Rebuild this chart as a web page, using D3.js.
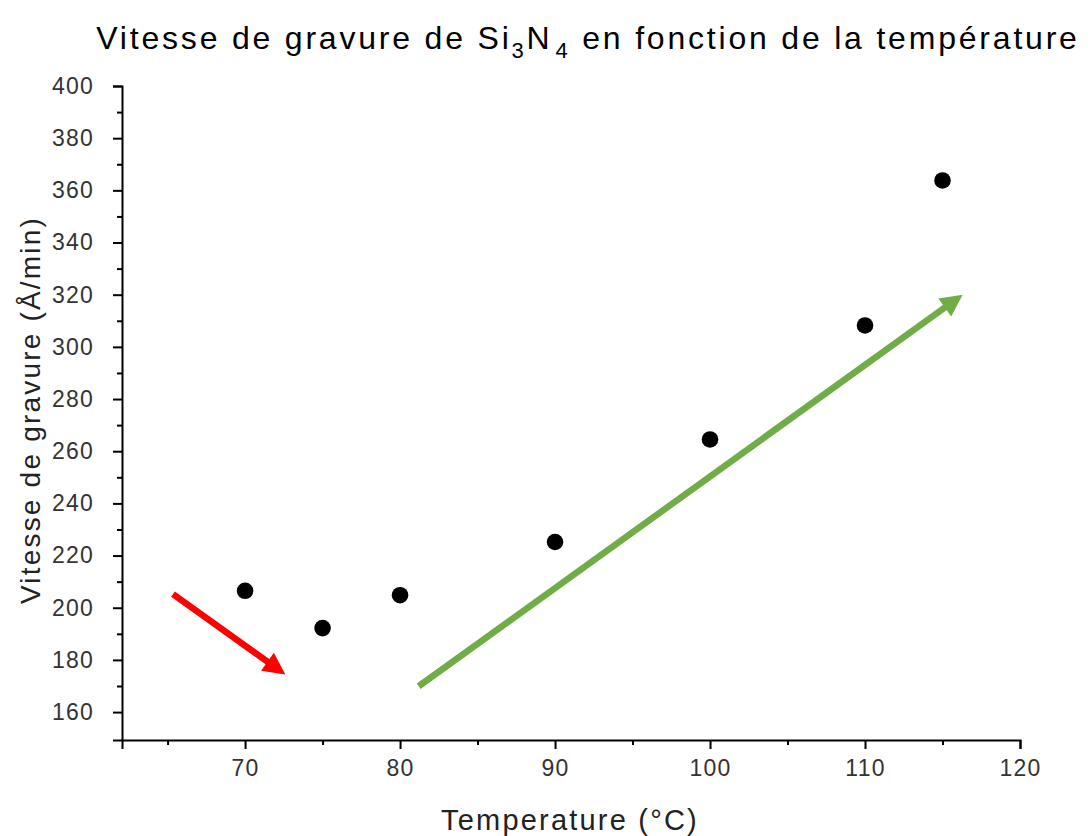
<!DOCTYPE html>
<html>
<head>
<meta charset="utf-8">
<script src="https://cdn.jsdelivr.net/npm/d3@7"></script>
<style>
  body { margin: 0; background: #fff; }
  text { font-family: "Liberation Sans", Arial, sans-serif; }
</style>
</head>
<body>
<div id="chart"></div>
<script>
// data
var temps = [70, 75, 80, 90, 100, 110, 115];
var rates = [206.5, 192.2, 204.8, 225.2, 264.5, 308.2, 363.8];
var xTicks = [70, 80, 90, 100, 110, 120];
var yTicks = [160, 180, 200, 220, 240, 260, 280, 300, 320, 340, 360, 380, 400];
// arrows: [x0, y0, x1, y1] in data units
var redArrow = [65.35, 205.2, 72.6, 174.4];
var greenArrow = [81.2, 169.9, 116.3, 320.0];

var W = 1091, H = 836;
var plot = {left: 122, right: 1020, top: 86, bottom: 740};

var svg = d3.select("#chart")
  .append("svg")
    .attr("width", W)
    .attr("height", H);

var x = d3.scaleLinear()
  .domain([62.06, 120])
  .range([plot.left, plot.right]);

var y = d3.scaleLinear()
  .domain([149.3, 400])
  .range([plot.bottom, plot.top]);

// axes
var xAxis = svg.append("g")
  .attr("transform", "translate(0," + plot.bottom + ")")
  .call(d3.axisBottom(x).tickValues(xTicks).tickSize(9).tickPadding(11).tickFormat(d3.format("d")));
xAxis.append("g")
  .attr("class", "minor")
  .call(d3.axisBottom(x).tickValues(d3.range(65, 120, 10)).tickSize(5).tickFormat(""));

var yAxis = svg.append("g")
  .attr("transform", "translate(" + plot.left + ",0)")
  .call(d3.axisLeft(y).tickValues(yTicks).tickSize(9).tickPadding(19).tickFormat(d3.format("d")));
yAxis.append("g")
  .attr("class", "minor")
  .call(d3.axisLeft(y).tickValues(d3.range(170, 400, 20)).tickSize(5).tickFormat(""));

svg.selectAll(".minor .domain").remove();
svg.selectAll(".domain").attr("stroke", "#000").attr("stroke-width", 2);
svg.selectAll(".tick line").attr("stroke", "#000").attr("stroke-width", 2);
svg.selectAll(".tick text")
  .attr("fill", "#333")
  .attr("font-size", null)
  .attr("font-family", null)
  .style("font-size", "23px")
  .style("letter-spacing", "1.2px");

// arrows
function arrow(a, color) {
  var x0 = x(a[0]), y0 = y(a[1]), x1 = x(a[2]), y1 = y(a[3]);
  var ang = Math.atan2(y1 - y0, x1 - x0);
  var hl = 22, hw = 11;
  var bx = x1 - hl * Math.cos(ang), by = y1 - hl * Math.sin(ang);
  svg.append("line")
    .attr("x1", x0).attr("y1", y0)
    .attr("x2", bx + 2 * Math.cos(ang)).attr("y2", by + 2 * Math.sin(ang))
    .attr("stroke", color)
    .attr("stroke-width", 6.5);
  var px = -Math.sin(ang), py = Math.cos(ang);
  svg.append("polygon")
    .attr("points", [
      [x1, y1],
      [bx + hw * px, by + hw * py],
      [bx - hw * px, by - hw * py]
    ].map(function(p) { return p.join(","); }).join(" "))
    .attr("fill", color);
}
arrow(redArrow, "#ff0000");
arrow(greenArrow, "#70ad47");

// points
svg.selectAll("circle.pt")
  .data(temps)
  .enter()
  .append("circle")
    .attr("class", "pt")
    .attr("cx", function(d) { return x(d); })
    .attr("cy", function(d, i) { return y(rates[i]); })
    .attr("r", 8.3)
    .attr("fill", "#000");

// title
var title = svg.append("text")
  .attr("x", 588)
  .attr("y", 49)
  .attr("text-anchor", "middle")
  .style("font-size", "32px")
  .style("letter-spacing", "2.8px")
  .attr("fill", "#000");
title.append("tspan").text("Vitesse de gravure de Si");
title.append("tspan").attr("dy", 9).style("font-size", "22px").text("3");
title.append("tspan").attr("dy", -9).text("N");
title.append("tspan").attr("dy", 9).attr("dx", 3).style("font-size", "22px").text("4");
title.append("tspan").attr("dy", -9).text(" en fonction de la température");

// axis labels
svg.append("text")
  .attr("x", 570)
  .attr("y", 830)
  .attr("text-anchor", "middle")
  .style("font-size", "29px")
  .style("letter-spacing", "2.2px")
  .attr("fill", "#222")
  .text("Temperature (°C)");

svg.append("text")
  .attr("transform", "translate(40,410) rotate(-90)")
  .attr("text-anchor", "middle")
  .style("font-size", "28px")
  .style("letter-spacing", "2.2px")
  .attr("fill", "#222")
  .text("Vitesse de gravure (Å/min)");
</script>
</body>
</html>
